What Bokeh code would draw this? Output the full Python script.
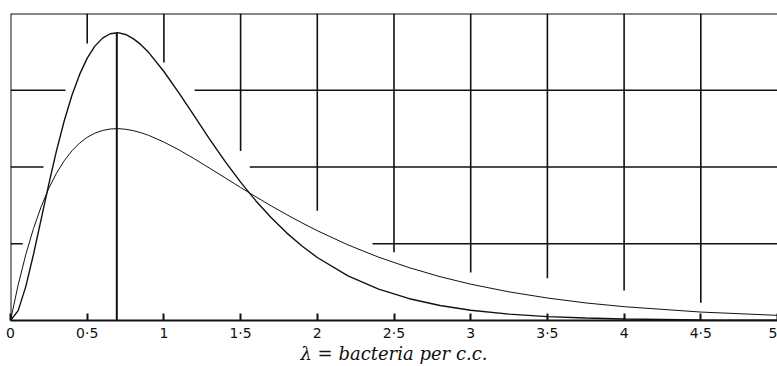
from bokeh.plotting import figure
from bokeh.models import Range1d, FixedTicker, Span, CustomJSTickFormatter, ColumnDataSource
from bokeh.embed import file_html
from bokeh.resources import INLINE

# lambda = bacteria per c.c.
lam = [0, 0.05, 0.1, 0.15, 0.2, 0.25, 0.3, 0.35, 0.4, 0.45, 0.5, 0.55, 0.6, 0.65, 0.7,
       0.75, 0.8, 0.85, 0.9, 1.0, 1.1, 1.2, 1.3, 1.4, 1.5, 1.6, 1.7, 1.8, 1.9, 2.0,
       2.2, 2.4, 2.6, 2.8, 3.0, 3.25, 3.5, 3.75, 4.0, 4.5, 5.0]
# lower, broader curve (thin line)
broad = [0, 0.0464, 0.0861, 0.1199, 0.1484, 0.1723, 0.1920, 0.2081, 0.2210, 0.2311, 0.2387,
         0.2441, 0.2476, 0.2495, 0.2500, 0.2492, 0.2474, 0.2447, 0.2413, 0.2325, 0.2221,
         0.2105, 0.1982, 0.1858, 0.1733, 0.1611, 0.1493, 0.1380, 0.1272, 0.1170,
         0.0985, 0.0825, 0.0688, 0.0571, 0.0473, 0.0373, 0.0293, 0.0229, 0.0180, 0.0110, 0.0067]
# taller, sharper curve
sharp = [0, 0.0129, 0.0445, 0.0863, 0.1322, 0.1781, 0.2213, 0.2599, 0.2931, 0.3203, 0.3418,
         0.3575, 0.3679, 0.3736, 0.3750, 0.3727, 0.3673, 0.3594, 0.3494, 0.3244, 0.2959,
         0.2659, 0.2357, 0.2071, 0.1803, 0.1558, 0.1338, 0.1142, 0.0971, 0.0821,
         0.0582, 0.0408, 0.0284, 0.0196, 0.0134, 0.0083, 0.0051, 0.0032, 0.0019, 0.0007, 0.0003]

peak_lam = 0.693
peak_val = 0.375

x_ticks = [0, 0.5, 1, 1.5, 2, 2.5, 3, 3.5, 4, 4.5, 5]

# broken grid of the printed chart
vgrid_x = [0.5, 1, 1.5, 2, 2.5, 3, 3.5, 4, 4.5]
vgrid_bottom = [0.361, 0.336, 0.221, 0.143, 0.089, 0.0625, 0.055, 0.039, 0.023]
grid_top = 0.4
hgrid_y = [0.3, 0.3, 0.2, 0.2, 0.1, 0.1]
hgrid_x0 = [0, 1.2, 0, 1.56, 0, 2.36]
hgrid_x1 = [0.358, 5, 0.215, 5, 0.08, 5]

INK = "#111111"

p = figure(width=777, height=366, output_backend="svg", toolbar_location=None,
           x_range=Range1d(0, 5), y_range=Range1d(0, 0.4),
           min_border_left=10, min_border_right=0, min_border_top=13, min_border_bottom=0)
p.outline_line_color = None
p.grid.visible = False
p.yaxis.visible = False
p.background_fill_color = "white"

xa = p.xaxis[0]
xa.ticker = FixedTicker(ticks=x_ticks)
xa.formatter = CustomJSTickFormatter(code="return String(tick).replace('.', '\u00b7');")
xa.axis_line_width = 2
xa.axis_line_color = INK
xa.major_tick_in = 7
xa.major_tick_out = 0
xa.major_tick_line_width = 2
xa.major_tick_line_color = INK
xa.minor_tick_line_color = None
xa.major_label_standoff = 4
xa.major_label_text_font = "DejaVu Sans"
xa.major_label_text_font_size = "14px"
xa.major_label_text_color = INK
xa.axis_label = "\u03bb = bacteria per c.c."
xa.axis_label_text_font = "DejaVu Serif"
xa.axis_label_text_font_style = "italic"
xa.axis_label_text_font_size = "18px"
xa.axis_label_text_color = INK
xa.axis_label_standoff = -1

# frame lines: left and top
p.add_layout(Span(location=0, dimension="height", line_color=INK, line_width=2))
p.add_layout(Span(location=grid_top, dimension="width", line_color=INK, line_width=2))

# broken grid
p.segment(x0=vgrid_x, y0=vgrid_bottom, x1=vgrid_x, y1=[grid_top] * len(vgrid_x),
          line_color=INK, line_width=1.6)
p.segment(x0=hgrid_x0, y0=hgrid_y, x1=hgrid_x1, y1=hgrid_y, line_color=INK, line_width=1.6)

# line at the maximum
p.segment(x0=[peak_lam], y0=[0], x1=[peak_lam], y1=[peak_val], line_color=INK, line_width=2)

src = ColumnDataSource(dict(lam=lam, broad=broad, sharp=sharp))
p.line("lam", "broad", source=src, line_color=INK, line_width=1)
p.line("lam", "sharp", source=src, line_color=INK, line_width=1.4)

open("out.html", "w").write(file_html(p, INLINE))
